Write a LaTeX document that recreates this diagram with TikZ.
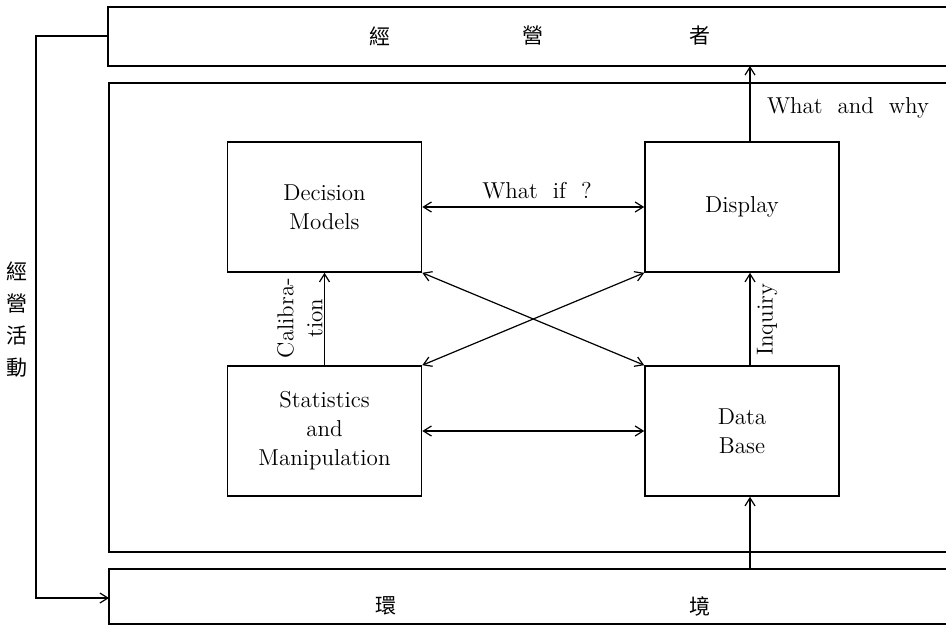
\documentclass[tikz,border=0pt]{standalone}
\usepackage{fontspec}
\newfontfamily\cjk{Noto Sans CJK TC}
\usetikzlibrary{arrows.meta}
\begin{document}
\begin{tikzpicture}[x=0.5pt,y=-0.5pt,
 box/.style={draw,line width=0.8pt,minimum width=97pt,minimum height=65pt,inner sep=0pt,align=center,font=\fontsize{11.5}{14.5}\selectfont},
 frame/.style={line width=0.8pt},
 arr/.style={line width=0.6pt,-{Straight Barb[length=4pt,width=5pt]}},
 darr/.style={line width=0.6pt,{Straight Barb[length=4pt,width=5pt]}-{Straight Barb[length=4pt,width=5pt]}},
 lbl/.style={font=\fontsize{11.5}{14.5}\selectfont,inner sep=0pt},
 cjkl/.style={font=\cjk\fontsize{10.5}{16}\selectfont,inner sep=0pt,align=center}]
\useasboundingbox (0,0) rectangle (946,626);

% bars and frame
\draw[frame] (946,7) -- (108,7) -- (108,66) -- (946,66);
\draw[frame] (946,83) -- (109,83) -- (109,552) -- (946,552);
\draw[frame] (946,569) -- (109,569) -- (109,624) -- (946,624);
\coordinate (tbl) at (108,36);
\coordinate (bbl) at (109,598);
\coordinate (tbb) at (0,66);
\coordinate (bbt) at (0,569);
\coordinate (xa) at (750,0);

% texts in bars
\node[cjkl] (t1) at (380,36) {經};
\node[cjkl] (t2) at (533,36) {營};
\node[cjkl] (t3) at (700,36) {者};
\node[cjkl] (b1) at (386,606) {環};
\node[cjkl] (b2) at (700,606) {境};
\node[cjkl] (side) at (17,320) {經\\營\\活\\動};

% boxes
\node[box] (DM) at (324.5,207) {Decision\\Models};
\node[box] (DI) at (742,207) {Display};
\node[box] (ST) at (324.5,431) {Statistics\\and\\Manipulation};
\node[box] (DB) at (742,431) {Data\\Base};

% connectors
\draw[darr] (DM.east) -- (DI.west);
\node[lbl] (wif) at (537,191) {What\ \ if\ \ ?};
\draw[darr] (ST.east) -- (DB.west);
\draw[darr] (DM.south east) -- (DB.north west);
\draw[darr] (ST.north east) -- (DI.south west);
\draw[arr] (ST.north) -- (DM.south);
\node[lbl,rotate=90,align=center] (cal) at (300,318) {Calibra-\\tion};
\draw[arr] (DB.north -| xa) -- (DI.south -| xa);
\node[lbl,rotate=90] (inq) at (767,320) {Inquiry};
\draw[arr] (DI.north -| xa) -- (tbb -| xa);
\node[lbl] (ww) at (848,108) {What\ \ and\ \ why};
\draw[arr] (bbt -| xa) -- (DB.south -| xa);
\draw[arr] (tbl) -- (36,36) -- (36,598) -- (bbl);
\end{tikzpicture}
\end{document}
